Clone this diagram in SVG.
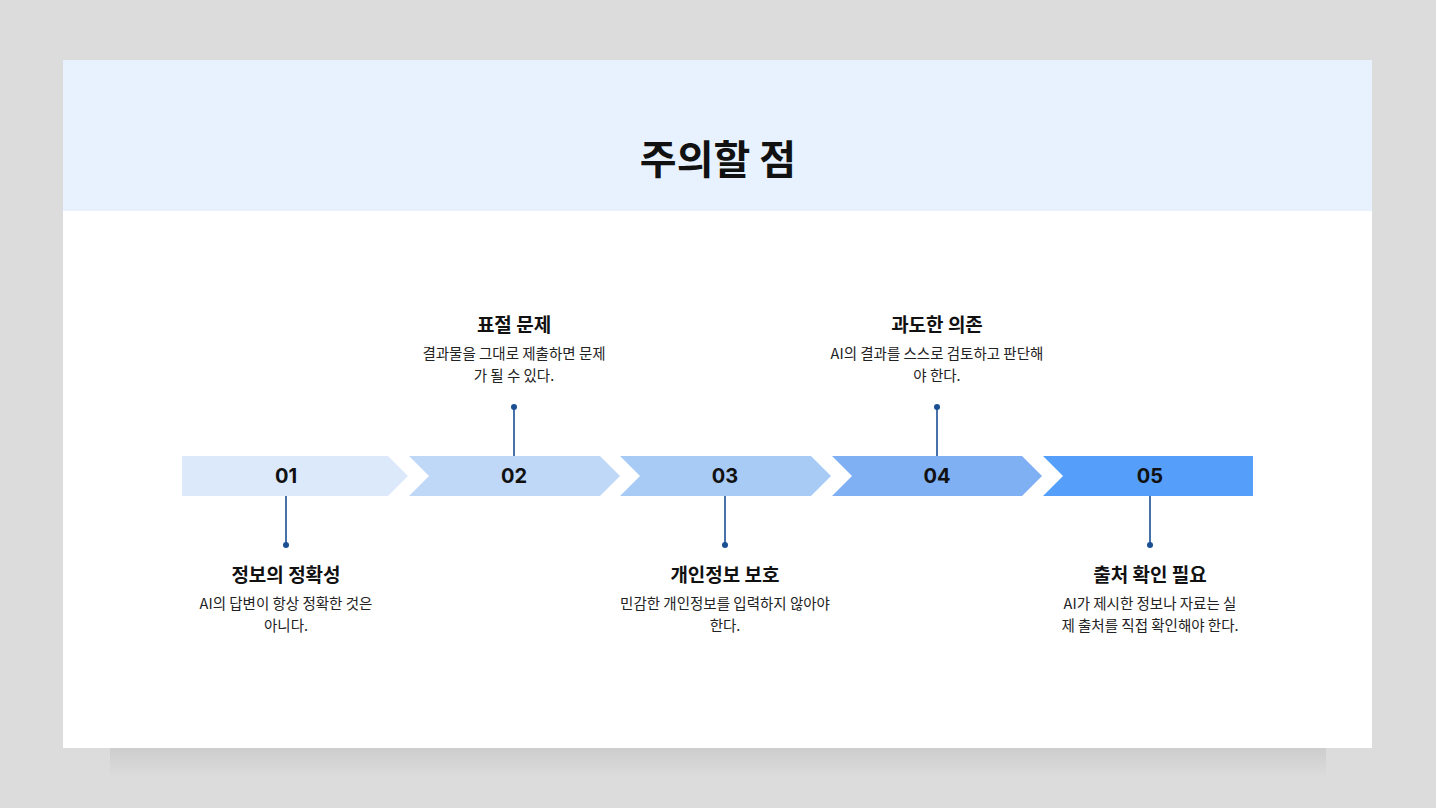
<svg xmlns="http://www.w3.org/2000/svg" width="1436" height="808" viewBox="0 0 1436 808">
<defs>
<style>
.t{font-family:"Noto Sans CJK KR","Noto Sans",sans-serif;font-weight:700;font-size:19px;fill:#111;text-anchor:middle}
.d{font-family:"Noto Sans CJK KR","Noto Sans",sans-serif;font-size:14.5px;fill:#222;text-anchor:middle}
.n{font-family:"Inter","Noto Sans",sans-serif;font-weight:700;font-size:20px;fill:#111;text-anchor:middle}
.c{stroke:#1a4f94;stroke-width:1.6}
.dot{fill:#1a4f94}
</style>
<linearGradient id="sh" x1="0" y1="0" x2="0" y2="1"><stop offset="0" stop-color="#c4c4c4"/><stop offset="1" stop-color="#dcdcdc"/></linearGradient>
</defs>
<rect width="1436" height="808" fill="#dcdcdc"/>
<rect x="110" y="748" width="1216" height="30" fill="url(#sh)" opacity="0.6"/>
<rect x="63" y="60" width="1309" height="688" fill="#fff"/>
<rect x="63" y="60" width="1309" height="151" fill="#e8f2fe"/>
<text x="718" y="174" font-family="Noto Sans CJK KR,sans-serif" font-weight="700" font-size="40" text-anchor="middle" fill="#111">주의할 점</text>
<g id="connectors">
<line class="c" x1="286" y1="496" x2="286" y2="545"/><circle class="dot" cx="286" cy="545" r="3"/>
<line class="c" x1="514" y1="407" x2="514" y2="456"/><circle class="dot" cx="514" cy="407" r="3"/>
<line class="c" x1="725" y1="496" x2="725" y2="545"/><circle class="dot" cx="725" cy="545" r="3"/>
<line class="c" x1="937" y1="407" x2="937" y2="456"/><circle class="dot" cx="937" cy="407" r="3"/>
<line class="c" x1="1150" y1="496" x2="1150" y2="545"/><circle class="dot" cx="1150" cy="545" r="3"/>
</g>
<g id="n1"><polygon points="182,456 388,456 408,476 388,496 182,496" fill="#dce9fb"/><text class="n" x="286" y="483">01</text>
<text class="t" x="286" y="582">정보의 정확성</text><text class="d" x="286" y="609">AI의 답변이 항상 정확한 것은</text><text class="d" x="286" y="631">아니다.</text></g>
<g id="n2"><polygon points="409,456 600,456 620,476 600,496 409,496 429,476" fill="#c0d8f8"/><text class="n" x="514" y="483">02</text>
<text class="t" x="514" y="332">표절 문제</text><text class="d" x="514" y="359">결과물을 그대로 제출하면 문제</text><text class="d" x="514" y="381">가 될 수 있다.</text></g>
<g id="n3"><polygon points="620,456 811,456 831,476 811,496 620,496 640,476" fill="#a8cbf6"/><text class="n" x="725" y="483">03</text>
<text class="t" x="725" y="582">개인정보 보호</text><text class="d" x="725" y="609">민감한 개인정보를 입력하지 않아야</text><text class="d" x="725" y="631">한다.</text></g>
<g id="n4"><polygon points="832,456 1022,456 1042,476 1022,496 832,496 852,476" fill="#7fb0f4"/><text class="n" x="937" y="483">04</text>
<text class="t" x="937" y="332">과도한 의존</text><text class="d" x="937" y="359">AI의 결과를 스스로 검토하고 판단해</text><text class="d" x="937" y="381">야 한다.</text></g>
<g id="n5"><polygon points="1043,456 1253,456 1253,496 1043,496 1063,476" fill="#559ffa"/><text class="n" x="1150" y="483">05</text>
<text class="t" x="1150" y="582">출처 확인 필요</text><text class="d" x="1150" y="609">AI가 제시한 정보나 자료는 실</text><text class="d" x="1150" y="631">제 출처를 직접 확인해야 한다.</text></g>
</svg>
